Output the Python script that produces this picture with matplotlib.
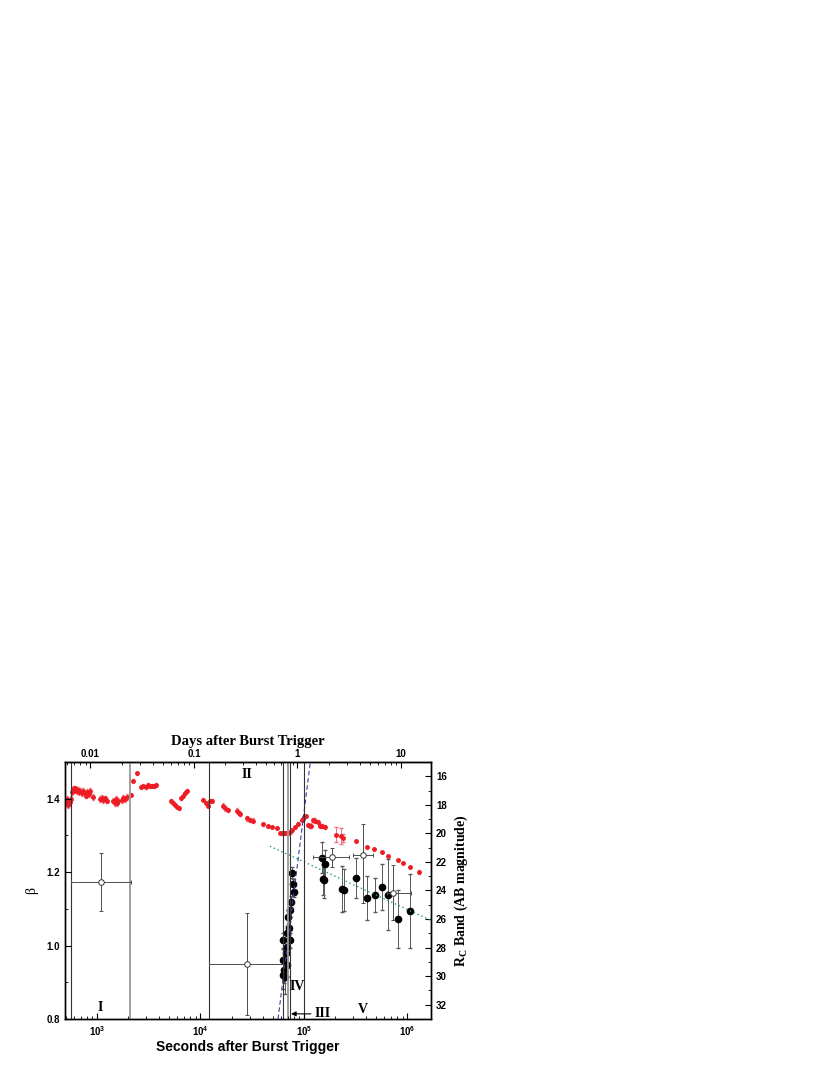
import numpy as np
import matplotlib
matplotlib.use("Agg")
import matplotlib.pyplot as plt
from matplotlib.ticker import FixedLocator, LogLocator, MultipleLocator, NullFormatter, FuncFormatter

plt.rcParams['mathtext.fontset'] = 'custom'
plt.rcParams['mathtext.rm'] = 'Liberation Serif:bold'
plt.rcParams['mathtext.bf'] = 'Liberation Sans:bold'

SERIF = 'Liberation Serif'
SANS = 'Liberation Sans'

# R band light curve (red), seconds / AB mag / error
red_t = [505, 515, 525, 535, 548, 558,
         575, 590, 605, 620, 640, 655, 670, 690, 710, 735, 760, 790, 810, 840, 860, 909,
         1070, 1110, 1150, 1200, 1250, 1440, 1480, 1520, 1560, 1600, 1740, 1800, 1860, 1930,
         2120, 2230, 2430,
         2650, 2800, 2950, 3100, 3250, 3400, 3550, 3700,
         5250, 5450, 5650, 5900, 6200, 6450, 6750, 7100, 7450,
         10700, 11300, 11900, 12400, 13000,
         16500, 17300, 18300, 22600, 23500, 24300, 28000, 30000, 32500,
         40400, 45200, 48700, 54500,
         58500, 61000, 64000, 67000, 70000, 73000,
         76000, 81800, 88100, 95000, 98400, 101000, 105000,
         109000, 114000, 118000, 123000, 129000, 136000, 143000, 151000, 160000,
         317500, 403800, 477700, 563200, 653000, 815200, 911000, 1058000, 1300000]
red_m = [17.9, 17.6, 18.0, 17.7, 17.8, 17.6,
         17.1, 16.9, 17.0, 16.85, 17.05, 16.95, 17.1, 17.0, 17.15, 17.0, 17.2, 17.35, 17.1, 17.25, 17.0, 17.45,
         17.6, 17.5, 17.65, 17.55, 17.7, 17.7, 17.85, 17.6, 17.9, 17.75, 17.65, 17.5, 17.6, 17.45,
         17.3, 16.3, 15.8,
         16.75, 16.65, 16.75, 16.6, 16.7, 16.65, 16.7, 16.6,
         17.7, 17.85, 18.0, 18.15, 18.25, 17.55, 17.35, 17.15, 17.0,
         17.65, 17.85, 18.05, 17.75, 17.7,
         18.05, 18.25, 18.35, 18.4, 18.55, 18.65, 18.95, 19.05, 19.1,
         19.36, 19.5, 19.55, 19.6,
         19.95, 20.0, 20.0, 19.98, 19.95, 19.9,
         19.78, 19.55, 19.31, 19.08, 18.96, 18.87, 18.8,
         19.4, 19.5, 19.45, 19.05, 19.1, 19.2, 19.45, 19.5, 19.55,
         20.55, 20.94, 21.13, 21.34, 21.57, 21.87, 22.06, 22.34, 22.69]
red_e = [0.2] * 36 + [0.1] * 3 + [0.12] * 8 + [0.1] * 9 + [0.1] * 5 + [0.15] * 9 + [0.1] * 4 \
        + [0.08] * 6 + [0.08] * 7 + [0.15] * 9 + [0.05] * 8 + [0.15]

# fainter red points with larger errors
red2_t = [203700, 227700, 239700]
red2_m = [20.08, 20.17, 20.31]
red2_e = [0.55, 0.55, 0.3]

# black filled points (right axis)
blk_t = [62200, 64100, 69000, 63100, 66600, 69000, 63100, 73300, 68000, 72100,
         70500, 73300, 75400, 80600, 78800, 77100, 66000,
         148300, 159500, 151700, 155000, 234600, 245000, 317500, 403500,
         485600, 567600, 648600, 815000, 1057000]
blk_m = [29.92, 29.57, 29.22, 28.87, 28.4, 27.94, 27.5, 27.5, 27.0, 26.65,
         25.84, 25.37, 24.79, 24.09, 23.57, 22.76, 30.03,
         21.71, 22.15, 23.23, 23.3, 23.88, 23.97, 23.16, 24.51,
         24.34, 23.78, 24.30, 26.0, 25.44]
blk_e = [1.0, 0.9, 0.8, 0.8, 0.6, 0.6, 0.5, 0.5, 0.5, 0.5,
         0.5, 0.5, 0.4, 0.4, 0.4, 0.4, 1.2,
         1.1, 1.0, 1.1, 1.2, 1.6, 1.5, 1.4, 1.55,
         1.2, 1.6, 2.5, 2.0, 2.6]

# spectral index beta (open circles, left axis)
beta_t = [1093, 28300, 185300, 369000, 720000]
beta_v = [1.173, 0.950, 1.24, 1.247, 1.144]
beta_lo = [0.08, 0.14, 0.025, 0.13, 0.075]
beta_hi = [0.08, 0.14, 0.025, 0.085, 0.075]
beta_tlo = [561, 12200, 123000, 300000, 630000]
beta_thi = [2133, 62700, 274000, 461000, 1074000]

# model lines
steep_t = [56200, 115300]
steep_m = [33.0, 15.0]
decay_t = [46900, 1.7e6]
decay_m = [20.9, 26.1]

# region boundaries (s)
bounds = [561, 2085, 12200, 62700, 70000, 73300, 100000]
bound_gray = [False, True, False, False, True, False, False]

fig = plt.figure(figsize=(8.3, 10.75), dpi=100)
ax = fig.add_axes([0.0783, 0.0521, 0.4410, 0.2391])
ax.set_xscale('log')
ax.set_xlim(491, 1.69e6)
ax.set_ylim(0.8, 1.5)

for b, g in zip(bounds, bound_gray):
    if g:
        ax.axvline(b, color='0.6', lw=1.3, zorder=1)
    else:
        ax.axvline(b, color='0.2', lw=0.8, zorder=1)

ax2 = ax.twinx()
ax2.set_ylim(33, 15)

ax2.errorbar(red_t, red_m, yerr=red_e, fmt='o', ms=2.5, color='#ee1c24', ecolor='#f06070',
             elinewidth=0.6, capsize=1, zorder=3)
ax2.errorbar(red2_t, red2_m, yerr=red2_e, fmt='o', ms=2.5, color='#ee1c24', ecolor='#f07080',
             elinewidth=0.7, capsize=1.5, zorder=3)
ax2.errorbar(blk_t, blk_m, yerr=blk_e, fmt='o', ms=4.5, color='black', ecolor='0.35',
             elinewidth=0.7, capsize=1.5, zorder=4)
ax2.plot(steep_t, steep_m, ls=(0, (4, 2.5)), color='#3340a0', lw=0.8, zorder=5)
ax2.plot(decay_t, decay_m, ls=(0, (1, 2)), color='#2a9a7a', lw=1.0, zorder=5)

ax.errorbar(beta_t, beta_v,
            yerr=[beta_lo, beta_hi],
            xerr=[np.array(beta_t) - np.array(beta_tlo), np.array(beta_thi) - np.array(beta_t)],
            fmt='o', ms=4, mfc='white', mec='0.2', mew=0.7, ecolor='0.3',
            elinewidth=0.7, capsize=1.5, zorder=6)
ax.set_zorder(ax2.get_zorder() + 1)
ax.patch.set_visible(False)

# region labels
lab = dict(fontfamily=SERIF, fontweight='bold', fontsize=10, ha='center', va='center')
ax.text(1070, 0.83, 'I', **lab)
ax.text(28100, 1.466, 'II', **lab)
ax.text(85500, 0.888, 'IV', **lab)
ax.text(372000, 0.827, 'V', **lab)
ax.text(128000, 0.814, 'III', fontfamily=SERIF, fontweight='bold', fontsize=10, ha='left', va='center')
ax.annotate('', xy=(70500, 0.814), xytext=(124000, 0.814),
            arrowprops=dict(arrowstyle='-|>', color='black', lw=0.8, mutation_scale=7))

# ticks
ax.yaxis.set_major_locator(MultipleLocator(0.2))
ax.yaxis.set_minor_locator(MultipleLocator(0.1))
ax.yaxis.set_major_formatter(FuncFormatter(lambda v, p: '%.1f' % v))
ax2.yaxis.set_major_locator(MultipleLocator(2))
ax2.yaxis.set_minor_locator(MultipleLocator(1))
ax.xaxis.set_major_locator(FixedLocator([1e3, 1e4, 1e5, 1e6]))
ax.xaxis.set_major_formatter(FuncFormatter(lambda v, p: r'$\mathbf{10^{%d}}$' % round(np.log10(v))))
ax.xaxis.set_minor_locator(LogLocator(base=10, subs=np.arange(2, 10)))
ax.xaxis.set_minor_formatter(NullFormatter())

for a in (ax, ax2):
    a.tick_params(which='major', direction='in', length=4, width=0.8, labelsize=7)
    a.tick_params(which='minor', direction='in', length=2, width=0.6)
for lbl in ax.get_yticklabels() + ax2.get_yticklabels():
    lbl.set_fontfamily(SANS)
    lbl.set_fontweight('bold')
ax.tick_params(axis='x', labelsize=7, pad=4)

top = ax.secondary_xaxis('top', functions=(lambda s: s / 86400.0, lambda d: d * 86400.0))
top.xaxis.set_major_locator(FixedLocator([0.01, 0.1, 1, 10]))
top.xaxis.set_major_formatter(FuncFormatter(lambda v, p: ('%g' % v)))
top.xaxis.set_minor_locator(LogLocator(base=10, subs=np.arange(2, 10)))
top.xaxis.set_minor_formatter(NullFormatter())
top.tick_params(which='major', direction='in', length=4, width=0.8, labelsize=7, pad=2)
top.tick_params(which='minor', direction='in', length=2, width=0.6)
for lbl in top.get_xticklabels():
    lbl.set_fontfamily(SANS)
    lbl.set_fontweight('bold')

for a in (ax, ax2):
    for s in a.spines.values():
        s.set_linewidth(1.0)

ax.set_xlabel('Seconds after Burst Trigger', fontfamily=SANS, fontweight='bold', fontsize=10, labelpad=1)
top.set_xlabel('Days after Burst Trigger', fontfamily=SERIF, fontweight='bold', fontsize=10.5, labelpad=3)
ax.set_ylabel('β', fontfamily=SERIF, fontsize=10, labelpad=6)
ax2.set_ylabel(r'R$_{\rm C}$ Band (AB magnitude)', fontfamily=SERIF, fontweight='bold',
               fontsize=10, labelpad=4)

fig.savefig('out.png', dpi=100)
